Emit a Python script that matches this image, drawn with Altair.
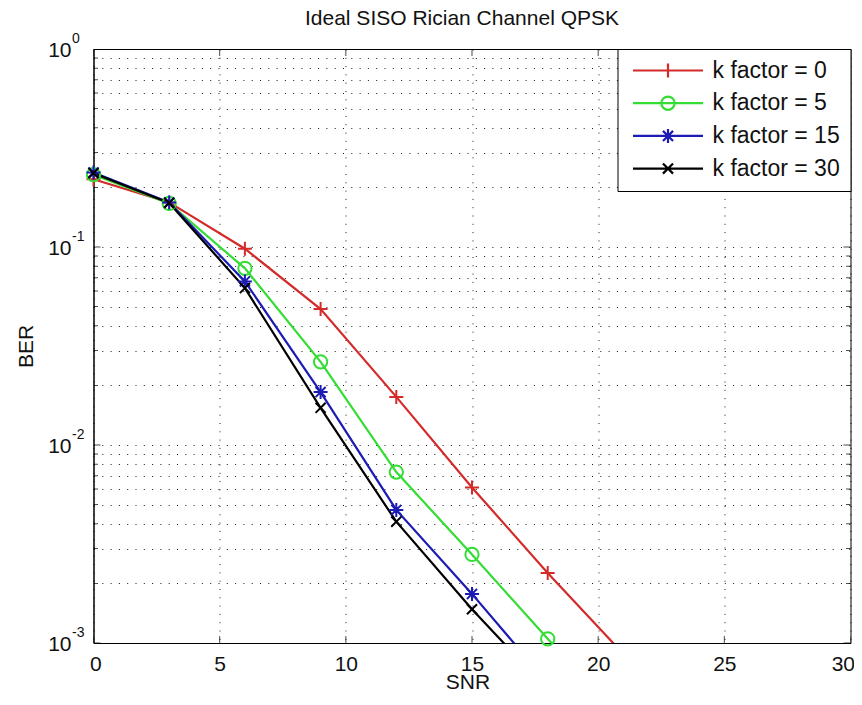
import altair as alt
import pandas as pd

# ---------------- data ----------------
snr_long = [0, 3, 6, 9, 12, 15, 18, 21]
snr_short = [0, 3, 6, 9, 12, 15, 18]
series_names = ["k factor = 0", "k factor = 5", "k factor = 15", "k factor = 30"]
ber_k0 = [0.220, 0.168, 0.098, 0.0486, 0.0175, 0.0061, 0.00226, 0.00088]
ber_k5 = [0.232, 0.166, 0.078, 0.0263, 0.0073, 0.0028, 0.00105, 0.00040]
ber_k15 = [0.238, 0.168, 0.067, 0.0185, 0.0047, 0.00177, 0.00063]
ber_k30 = [0.236, 0.167, 0.062, 0.0154, 0.0041, 0.00148, 0.00058]

x_ticks = [0, 5, 10, 15, 20, 25, 30]
decades = [1, 0.1, 0.01, 0.001]
decade_exponents = ["0", "-1", "-2", "-3"]
minor_multipliers = [2, 3, 4, 5, 6, 7, 8, 9]
title_text = "Ideal SISO Rician Channel QPSK"

# ---------------- styles ----------------
colors = ["#d42a2a", "#33dd33", "#1c1cb4", "#000000"]
marker_plus = "M-1,0L1,0M0,-1L0,1"
marker_circle = "M0.95,0A0.95,0.95,0,1,1,-0.95,0A0.95,0.95,0,1,1,0.95,0"
marker_star = "M-1,0L1,0M0,-1L0,1M-0.72,-0.72L0.72,0.72M-0.72,0.72L0.72,-0.72"
marker_x = "M-0.72,-0.72L0.72,0.72M-0.72,0.72L0.72,-0.72"
markers = [marker_plus, marker_circle, marker_star, marker_x]
legend_line = "M-5,0L5,0"
legend_symbols = [legend_line + m for m in markers]
FONT = "Liberation Sans"

# ---------------- tables ----------------
rows = []
for name, xs, ys in [
    (series_names[0], snr_long, ber_k0),
    (series_names[1], snr_long, ber_k5),
    (series_names[2], snr_short, ber_k15),
    (series_names[3], snr_short, ber_k30),
]:
    for xv, yv in zip(xs, ys):
        rows.append({"series": name, "snr": xv, "ber": yv})
df = pd.DataFrame(rows)

legend_df = pd.DataFrame({
    "series": series_names,
    "snr": [snr_long[0]] * 4,
    "ber": [ber_k0[0], ber_k5[0], ber_k15[0], ber_k30[0]],
})

minor_vals = [m * d for d in decades[1:] for m in minor_multipliers]
grid_vals = sorted(decades + minor_vals)
dec_df = pd.DataFrame({"ber": decades, "exp": decade_exponents})
major_df = pd.DataFrame({"ber": decades})
minor_df = pd.DataFrame({"ber": minor_vals})
xt_df = pd.DataFrame({"snr": x_ticks})

x_scale = alt.Scale(domain=[0, 30], nice=False, zero=False)
y_scale = alt.Scale(type="log", domain=[0.001, 1], nice=False)

color_scale = alt.Scale(domain=series_names, range=colors)
shape_scale = alt.Scale(domain=series_names, range=markers)

x_axis = alt.Axis(
    values=x_ticks, title="SNR", grid=True, ticks=False,
    labelFontSize=21, labelFont=FONT, labelColor="#111111",
    labelBaseline="alphabetic", labelPadding=27,
    labelFlush=1, labelFlushOffset=4,
    titleFontSize=21, titleFont=FONT, titleFontWeight="normal", titleColor="#111111",
    titleBaseline="alphabetic", titleY=45, titleX=374,
    gridColor="#000000", gridDash=[1, 7.3], gridOpacity=0.9, gridWidth=1,
    domainColor="#000000", domainWidth=1,
)
y_axis = alt.Axis(
    values=grid_vals, title="BER", grid=True, ticks=False, labels=False,
    titleFontSize=21, titleFont=FONT, titleFontWeight="normal", titleColor="#111111",
    titleBaseline="alphabetic", titleX=-61, titleAngle=270,
    gridColor="#000000", gridDash=[1, 7.3], gridOpacity=0.9, gridWidth=1,
    domainColor="#000000", domainWidth=1,
)

base = alt.Chart(df)

lines = base.mark_line(strokeWidth=2.2, clip=True).encode(
    x=alt.X("snr:Q", scale=x_scale, axis=x_axis),
    y=alt.Y("ber:Q", scale=y_scale, axis=y_axis),
    color=alt.Color("series:N", scale=color_scale, legend=None),
    detail="series:N",
)

points = base.transform_filter("datum.ber >= 0.001").mark_point(
    filled=False, strokeWidth=2, size=196, opacity=1
).encode(
    x=alt.X("snr:Q", scale=x_scale),
    y=alt.Y("ber:Q", scale=y_scale),
    color=alt.Color("series:N", scale=color_scale, legend=None),
    shape=alt.Shape("series:N", scale=shape_scale, legend=None),
)

leg = alt.Legend(
    title=None, orient="top-right", offset=0, padding=10,
    strokeColor="#000000", fillColor="#ffffff", cornerRadius=0,
    symbolSize=196, symbolStrokeWidth=2.2, symbolOffset=29, symbolOpacity=1,
    labelOffset=33, labelFontSize=23, labelFont=FONT, labelColor="#111111",
    labelLimit=400, rowPadding=8.7,
)
legend_layer = alt.Chart(legend_df).mark_point(filled=False, opacity=0).encode(
    x=alt.X("snr:Q", scale=x_scale),
    y=alt.Y("ber:Q", scale=y_scale),
    color=alt.Color("series:N", scale=color_scale, legend=leg, sort=series_names),
    shape=alt.Shape("series:N", scale=alt.Scale(domain=series_names, range=legend_symbols),
                    legend=leg, sort=series_names),
)

# inward tick marks (MATLAB style box ticks)
def ytick_layer(data, xval, size):
    return alt.Chart(data).mark_tick(orient="horizontal", size=size, thickness=1,
                                     color="#000000", clip=True).encode(
        x=alt.X(datum=xval, scale=x_scale),
        y=alt.Y("ber:Q", scale=y_scale),
    )

def xtick_layer(yval):
    return alt.Chart(xt_df).mark_tick(orient="vertical", size=14, thickness=1,
                                      color="#000000", clip=True).encode(
        x=alt.X("snr:Q", scale=x_scale),
        y=alt.Y(datum=yval, scale=y_scale),
    )

ticks = [
    ytick_layer(major_df, 0, 14), ytick_layer(major_df, 30, 14),
    ytick_layer(minor_df, 0, 9), ytick_layer(minor_df, 30, 9),
    xtick_layer(0.001), xtick_layer(1),
]

# y tick labels: "10" with superscript exponent
lab10 = alt.Chart(dec_df).mark_text(
    text="10", align="right", baseline="middle", dx=-22, dy=2,
    fontSize=21, font=FONT, color="#111111"
).encode(
    x=alt.X(datum=0, scale=x_scale),
    y=alt.Y("ber:Q", scale=y_scale),
)
labexp = alt.Chart(dec_df).mark_text(
    align="left", baseline="middle", dx=-21.5, dy=-10,
    fontSize=14, font=FONT, color="#111111"
).encode(
    x=alt.X(datum=0, scale=x_scale),
    y=alt.Y("ber:Q", scale=y_scale),
    text="exp:N",
)

chart = alt.layer(
    lines, *ticks, points, legend_layer, lab10, labexp
).resolve_scale(
    color="independent", shape="independent"
).properties(
    width=757, height=594,
    padding={"left": 85.5, "top": 41, "right": 3.5, "bottom": 50},
    autosize=alt.AutoSizeParams(type="none"),
    background="#ffffff",
    title=alt.TitleParams(title_text, fontSize=21, font=FONT, fontWeight="normal",
                          color="#111111", anchor="middle", baseline="alphabetic",
                          offset=3, dx=-10, dy=17),
).configure_view(
    stroke="#000000", strokeWidth=1
)

chart.save("out.html", embed_options={"renderer": "svg", "actions": False})
